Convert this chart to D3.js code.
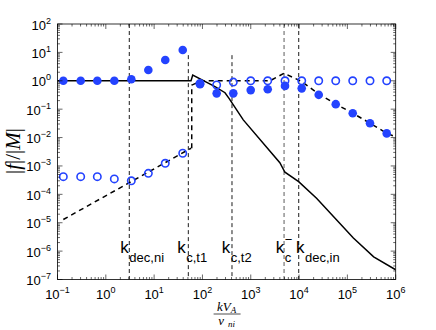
<!DOCTYPE html>
<html><head><meta charset="utf-8">
<script src="https://cdn.jsdelivr.net/npm/d3@7/dist/d3.min.js"></script>
<style>body{margin:0;background:#fff}svg{display:block}</style>
</head><body>
<svg id="c" width="436" height="330"></svg>
<script>
// ---- data ----
const kValues = [0.132,0.302,0.667,1.50,3.37,7.59,17.0,39.1,89.1,197,435,998,2245,5117,11350,25500,57400,129000,294000,652000];
const filledValues = [1.0,1.0,1.0,1.0,1.13,2.4,5.4,12.2,0.75,0.36,0.36,0.47,0.5,0.66,0.54,0.32,0.15,0.072,0.032,0.014];
const openValues = [4.2e-4,4.2e-4,4.2e-4,3.5e-4,3.0e-4,5.5e-4,1.24e-3,2.8e-3,0.8,0.71,0.9,1,1,1,1,1,1,1,1,1];
const solidK = [0.1,58,63,182,293,355,700,4000,5100,9800,23000,133000,350000,1e6];
const solidF = [1,1,1.6,0.62,0.38,0.24,0.042,1.3e-3,6e-4,2.8e-4,7.3e-5,2.9e-6,6.3e-7,2.2e-7];
const dashLowK = [0.132,58];
const dashLowF = [1.3e-5,4.2e-3];
const dashHighK = [60,60,95,2500,4890,11350,25500,57400,129000,294000,652000,1e6];
const dashHighF = [4.2e-3,0.7,1.0,1.0,1.84,0.94,0.34,0.152,0.072,0.032,0.0142,0.0105];
const refK = [3.06,51,409,4890,9840];
const refTop = [100,8,8,100,100];
const refGrey = [false,false,false,true,false];
const labelK = [2.0,30,250,3300,8650];
const labelMain = ["k","k","k","k","k"];
const labelSub = ["dec,ni","c,t1","c,t2","c","dec,in"];
const labelSup = ["","","","\u2212",""];
const xTickExp = ["\u22121","0","1","2","3","4","5","6"];
const yTickExp = ["\u22127","\u22126","\u22125","\u22124","\u22123","\u22122","\u22121","0","1","2"];

// ---- setup ----
const L=57.5,R=395.7,T=24,B=279.5;
const x=d3.scaleLog().domain([1e-1,1e6]).range([L,R]);
const y=d3.scaleLog().domain([1e-7,1e2]).range([B,T]);
const svg=d3.select("#c");
const sans="'Liberation Sans', Arial, Helvetica, sans-serif";
const serif="'Liberation Serif','Times New Roman',serif";
const blue="#2443ff";

svg.append("clipPath").attr("id","clip").append("rect")
  .attr("x",L).attr("y",T).attr("width",R-L).attr("height",B-T);
const g=svg.append("g").attr("clip-path","url(#clip)");

// reference lines
refK.forEach((k,i)=>{
  g.append("line").attr("x1",x(k)).attr("x2",x(k))
   .attr("y1",y(refTop[i])).attr("y2",y(1e-7))
   .attr("stroke",refGrey[i]?"#777":"#000").attr("stroke-width",refGrey[i]?1.2:0.9)
   .attr("stroke-dasharray","4,3");
});

const line=d3.line().x(d=>x(d[0])).y(d=>y(d[1]));
g.append("path").datum(solidK.map((k,i)=>[k,solidF[i]]))
 .attr("d",line).attr("fill","none").attr("stroke","#000").attr("stroke-width",1.5);
g.append("path").datum(dashLowK.map((k,i)=>[k,dashLowF[i]]))
 .attr("d",line).attr("fill","none").attr("stroke","#000").attr("stroke-width",1.5).attr("stroke-dasharray","5,4");
g.append("path").datum(dashHighK.map((k,i)=>[k,dashHighF[i]]))
 .attr("d",line).attr("fill","none").attr("stroke","#000").attr("stroke-width",1.5).attr("stroke-dasharray","5,4");

// markers
g.selectAll("circle.f").data(kValues).enter().append("circle").attr("class","f")
 .attr("cx",d=>x(d)).attr("cy",(d,i)=>y(filledValues[i])).attr("r",4.3).attr("fill",blue);
g.selectAll("circle.o").data(kValues).enter().append("circle").attr("class","o")
 .attr("cx",d=>x(d)).attr("cy",(d,i)=>y(openValues[i])).attr("r",3.7)
 .attr("fill","none").attr("stroke",blue).attr("stroke-width",1.6);

// labels
const labY=y(8.3e-7);
labelK.forEach((k,i)=>{
  const x0=x(k);
  const t=svg.append("text").attr("x",x0).attr("y",labY).attr("font-family",sans).attr("font-size",17).text(labelMain[i]);
  const w=t.node().getComputedTextLength();
  svg.append("text").attr("x",x0+w+0.5).attr("y",labY+8.5).attr("font-family",sans).attr("font-size",13).text(labelSub[i]);
  if(labelSup[i]) svg.append("text").attr("x",x0+w+0.5).attr("y",labY-9).attr("font-family",sans).attr("font-size",13).text(labelSup[i]);
});

// axes box
svg.append("rect").attr("x",L).attr("y",T).attr("width",R-L).attr("height",B-T)
 .attr("fill","none").attr("stroke","#000").attr("stroke-width",0.8);
const ax=svg.append("g").attr("stroke","#000").attr("stroke-width",0.6);
x.ticks().forEach(v=>{
  const major=Math.abs(Math.log10(v)-Math.round(Math.log10(v)))<1e-9;
  const len=major?5:2.5, px=x(v);
  ax.append("line").attr("x1",px).attr("x2",px).attr("y1",B).attr("y2",B-len);
  ax.append("line").attr("x1",px).attr("x2",px).attr("y1",T).attr("y2",T+len);
});
y.ticks().forEach(v=>{
  const major=Math.abs(Math.log10(v)-Math.round(Math.log10(v)))<1e-9;
  const len=major?5:2.5, py=y(v);
  ax.append("line").attr("y1",py).attr("y2",py).attr("x1",L).attr("x2",L+len);
  ax.append("line").attr("y1",py).attr("y2",py).attr("x1",R).attr("x2",R-len);
});

// tick labels
xTickExp.forEach((e,i)=>{
  const v=Math.pow(10,i-1);
  const t=svg.append("text").attr("x",x(v)).attr("y",299).attr("text-anchor","middle")
    .attr("font-family",sans).attr("font-size",13);
  t.append("tspan").text("10");
  t.append("tspan").attr("dy",-6).attr("font-size",9).text(e);
});
yTickExp.forEach((e,i)=>{
  const v=Math.pow(10,i-7);
  const t=svg.append("text").attr("x",51).attr("y",y(v)+5.5).attr("text-anchor","end")
    .attr("font-family",sans).attr("font-size",13);
  t.append("tspan").text("10");
  t.append("tspan").attr("dy",-6).attr("font-size",9).text(e);
});

// y label
const yl=svg.append("text").attr("transform","translate(20,151) rotate(-90)")
  .attr("text-anchor","middle").attr("font-family",serif).attr("font-size",21);
yl.append("tspan").text("|");
yl.append("tspan").attr("font-style","italic").text("f");
yl.append("tspan").text("|/|");
yl.append("tspan").attr("font-style","italic").text("M");
yl.append("tspan").text("|");

// x label (fraction)
const cx=(L+R)/2;
const num=svg.append("text").attr("x",cx).attr("y",311).attr("text-anchor","middle")
  .attr("font-family",serif).attr("font-size",13).attr("font-style","italic");
num.append("tspan").text("kV");
num.append("tspan").attr("font-size",9).attr("dy",2).text("A");
svg.append("line").attr("x1",cx-13).attr("x2",cx+14).attr("y1",314).attr("y2",314)
  .attr("stroke","#000").attr("stroke-width",0.7);
const den=svg.append("text").attr("x",cx).attr("y",325).attr("text-anchor","middle")
  .attr("font-family",serif).attr("font-size",13).attr("font-style","italic");
den.append("tspan").text("\u03bd");
den.append("tspan").attr("font-size",9).attr("dx",4).attr("dy",2).text("ni");
</script>
</body></html>
